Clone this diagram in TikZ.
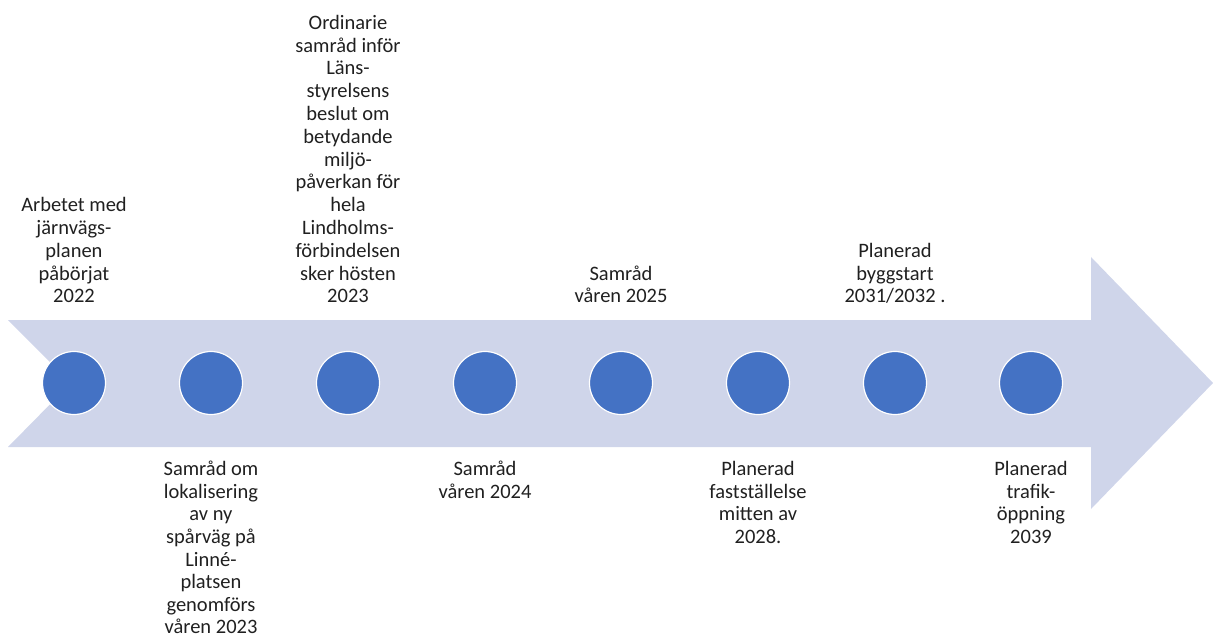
\documentclass[tikz,border=0pt]{standalone}
\usepackage{fontspec}
\setmainfont{Carlito}
\usepackage{xcolor}
\definecolor{arrowfill}{HTML}{CFD5EA}
\definecolor{dotblue}{HTML}{4472C4}
\definecolor{txt}{HTML}{202020}

\begin{document}
\begin{tikzpicture}[x=1pt,y=-1pt,
  dot/.style={circle,fill=dotblue,draw=white,line width=1.2pt,minimum size=63pt,inner sep=0pt},
  uplabel/.style={anchor=south,align=center,inner sep=0pt,text depth=0pt,text=txt,font=\fontsize{20.5}{22.8}\selectfont},
  downlabel/.style={anchor=north,align=center,inner sep=0pt,text=txt,font=\fontsize{20.5}{22.6}\selectfont}]
\useasboundingbox (0,0) rectangle (1213,639);

%arrow
\fill[arrowfill] (8,320) -- (1091,320) -- (1091,257) -- (1213,383) -- (1091,509)
  -- (1091,447) -- (8,447) -- (71,383) -- cycle;

%dots
\node[dot] (c1) at (74,383) {};
\node[dot] (c2) at (211,383) {};
\node[dot] (c3) at (348,383) {};
\node[dot] (c4) at (485,383) {};
\node[dot] (c5) at (621,383) {};
\node[dot] (c6) at (758,383) {};
\node[dot] (c7) at (895,383) {};
\node[dot] (c8) at (1031,383) {};

%labels above
\node[uplabel] (l1) at (74,303) {Arbetet med\\järnvägs-\\planen\\påbörjat\\2022};
\node[uplabel] (l3) at (348,303) {Ordinarie\\samråd inför\\Läns-\\styrelsens\\beslut om\\betydande\\miljö-\\påverkan för\\hela\\Lindholms-\\förbindelsen\\sker hösten\\2023};
\node[uplabel] (l5) at (621,303) {Samråd\\våren 2025};
\node[uplabel] (l7) at (895,303) {Planerad\\byggstart\\2031/2032 .};

%labels below
\node[downlabel] (l2) at (211,461) {Samråd om\\lokalisering\\av ny\\spårväg på\\Linné-\\platsen\\genomförs\\våren 2023};
\node[downlabel] (l4) at (485,461) {Samråd\\våren 2024};
\node[downlabel] (l6) at (758,461) {Planerad\\fastställelse\\mitten av\\2028.};
\node[downlabel] (l8) at (1031,461) {Planerad\\trafik-\\öppning\\2039};
\end{tikzpicture}
\end{document}
